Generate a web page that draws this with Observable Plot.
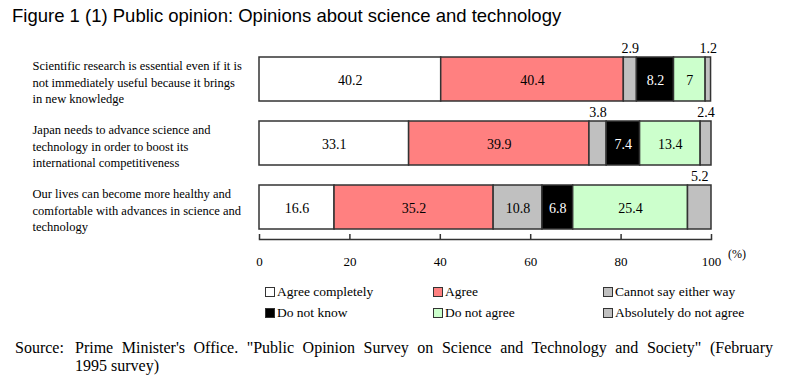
<!DOCTYPE html>
<html>
<head>
<meta charset="utf-8">
<script src="https://cdn.jsdelivr.net/npm/d3@7"></script>
<script src="https://cdn.jsdelivr.net/npm/@observablehq/plot@0.6"></script>
<style>
  html, body { margin: 0; padding: 0; background: #fff; }
  #wrap { position: relative; width: 789px; height: 387px; overflow: hidden; }
  #chart { position: absolute; left: 0; top: 0; }
  .title { position: absolute; left: 12px; top: 5px; font-family: "Liberation Sans", Arial, sans-serif; font-size: 18.5px; color: #000; white-space: nowrap; }
  .unit { position: absolute; left: 728px; top: 247px; font-family: "Liberation Serif", "Times New Roman", serif; font-size: 12px; color: #000; }
  .legend { position: absolute; left: 0; top: 0; font-family: "Liberation Serif", "Times New Roman", serif; font-size: 13.5px; color: #000; }
  .item { position: absolute; display: flex; align-items: center; white-space: nowrap; height: 16px; }
  .sw { width: 10px; height: 10px; box-sizing: border-box; border: 1.5px solid #333; margin-right: 2px; }
  .source { position: absolute; left: 15px; top: 339px; width: 758px; font-family: "Liberation Serif", "Times New Roman", serif; font-size: 16px; line-height: 18px; color: #000; display: flex; }
  .source .lab { width: 60px; flex: none; }
  .source .txt { flex: 1; }
  .source .l1 { text-align: justify; text-align-last: justify; white-space: nowrap; }
</style>
</head>
<body>
<div id="wrap">
  <div id="chart"></div>
  <div class="title">Figure 1 (1) Public opinion: Opinions about science and technology</div>
  <div class="unit">(%)</div>
  <div class="legend" id="legend"></div>
  <div class="source"><div class="lab">Source:</div><div class="txt"><div class="l1">Prime Minister's Office. "Public Opinion Survey on Science and Technology and Society" (February</div><div>1995 survey)</div></div></div>
</div>
<script>
const questions = [
  "Scientific research is essential even if it is not immediately useful because it brings in new knowledge",
  "Japan needs to advance science and technology in order to boost its international competitiveness",
  "Our lives can become more healthy and comfortable with advances in science and technology"
];
const questionLines = [
  "Scientific research is essential even if it is\nnot immediately useful because it brings\nin new knowledge",
  "Japan needs to advance science and\ntechnology in order to boost its\ninternational competitiveness",
  "Our lives can become more healthy and\ncomfortable with advances in science and\ntechnology"
];
const responses = ["Agree completely", "Agree", "Cannot say either way", "Do not know", "Do not agree", "Absolutely do not agree"];
const colors = ["#FFFFFF", "#FF8080", "#C0C0C0", "#000000", "#CCFFCC", "#C0C0C0"];
const q1Values = [40.2, 40.4, 2.9, 8.2, 7, 1.2];
const q2Values = [33.1, 39.9, 3.8, 7.4, 13.4, 2.4];
const q3Values = [16.6, 35.2, 10.8, 6.8, 25.4, 5.2];
const xTicks = [0, 20, 40, 60, 80, 100];

const seriesValues = [q1Values, q2Values, q3Values];
const data = [];
questions.forEach((q, i) => {
  responses.forEach((r, j) => data.push({q, resp: r, value: seriesValues[i][j]}));
});
const labelOf = new Map(questions.map((q, i) => [q, questionLines[i]]));
const serif = "Liberation Serif, Times New Roman, serif";
const small = 6;

const chart = Plot.plot({
  width: 789,
  height: 280,
  marginLeft: 259,
  marginRight: 78,
  marginTop: 47,
  marginBottom: 41,
  style: {fontFamily: serif, background: "white", color: "#000"},
  x: {domain: [0, 100]},
  y: {domain: questions, paddingInner: 0.318, paddingOuter: 0.155},
  color: {domain: responses, range: colors},
  marks: [
    Plot.barX(data, Plot.stackX({x: "value", y: "q", fill: "resp", stroke: "#333", strokeWidth: 1.5})),
    Plot.text(data, Plot.stackX({x: "value", y: "q",
      text: d => (d.value >= small && d.resp !== "Do not know") ? String(d.value) : "",
      fill: "#000", fontSize: 14, dy: 1})),
    Plot.text(data, Plot.stackX({x: "value", y: "q",
      text: d => (d.value >= small && d.resp === "Do not know") ? String(d.value) : "",
      fill: "#fff", fontSize: 14, dy: 1})),
    Plot.text(data, Plot.stackX({x: "value", y: "q",
      text: d => d.value < small ? String(d.value) : "",
      fill: "#000", fontSize: 14, dy: -31})),
    Plot.frame({anchor: "bottom", stroke: "#333", strokeWidth: 1.5}),
    Plot.ruleX(xTicks, {x: d => d, insetTop: 187, stroke: "#333", strokeWidth: 1.5}),
    Plot.axisX({ticks: xTicks, tickSize: 0, tickPadding: 17, fontSize: 13, label: null, tickFormat: d => String(d)}),
    Plot.axisY({tickSize: 0, tickPadding: 227, textAnchor: "start", fontSize: 12.5, lineHeight: 1.3, dy: 2, label: null, tickFormat: d => labelOf.get(d)})
  ]
});
document.getElementById("chart").appendChild(chart);

const legendPos = [[265, 292], [433, 292], [603, 292], [265, 313], [433, 313], [603, 313]];
const legend = document.getElementById("legend");
responses.forEach((r, i) => {
  const it = document.createElement("div");
  it.className = "item";
  it.style.left = legendPos[i][0] + "px";
  it.style.top = (legendPos[i][1] - 8) + "px";
  const sw = document.createElement("div");
  sw.className = "sw";
  sw.style.background = colors[i];
  const tx = document.createElement("span");
  tx.textContent = r;
  it.appendChild(sw);
  it.appendChild(tx);
  legend.appendChild(it);
});
</script>
</body>
</html>
